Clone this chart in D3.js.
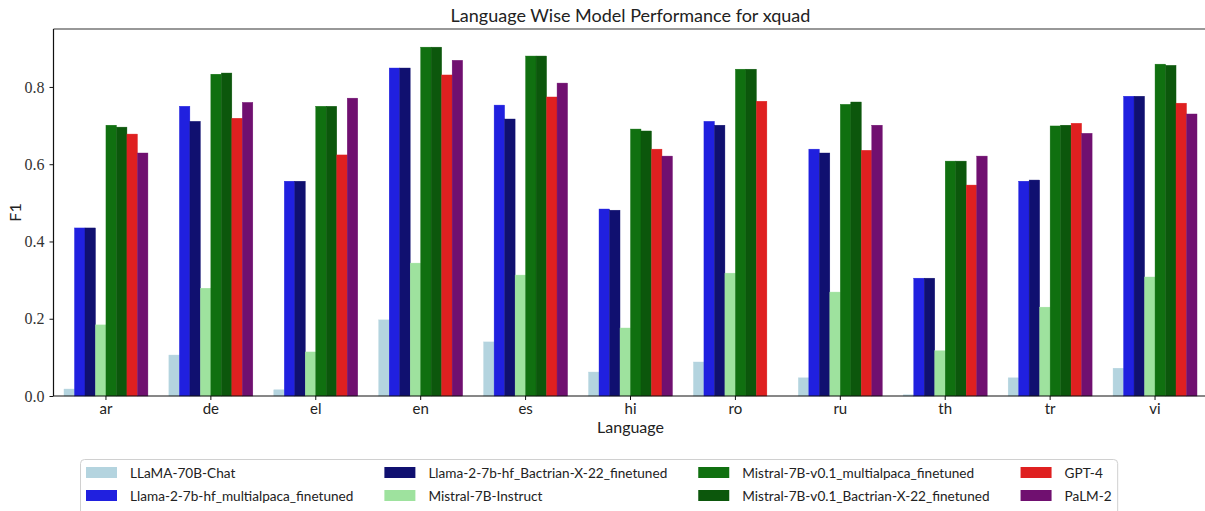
<!DOCTYPE html>
<html><head><meta charset="utf-8">
<script src="https://cdn.jsdelivr.net/npm/d3@7"></script>
<style>body{margin:0;background:#fff;} svg{display:block;}</style>
</head><body>
<svg id="chart" width="1205" height="511"></svg>
<script>
const languages = ["ar","de","el","en","es","hi","ro","ru","th","tr","vi"];
const models = ["LLaMA-70B-Chat","Llama-2-7b-hf_multialpaca_finetuned","Llama-2-7b-hf_Bactrian-X-22_finetuned","Mistral-7B-Instruct","Mistral-7B-v0.1_multialpaca_finetuned","Mistral-7B-v0.1_Bactrian-X-22_finetuned","GPT-4","PaLM-2"];
const llama70b      = [0.018,0.106,0.016,0.197,0.140,0.062,0.088,0.047,0.003,0.047,0.072];
const llamaMulti    = [0.435,0.750,0.556,0.849,0.753,0.484,0.711,0.639,0.305,0.556,0.776];
const llamaBactrian = [0.435,0.711,0.556,0.849,0.717,0.481,0.701,0.629,0.305,0.559,0.776];
const mistralInstr  = [0.184,0.279,0.114,0.344,0.313,0.176,0.318,0.269,0.117,0.230,0.308];
const mistralMulti  = [0.701,0.833,0.750,0.903,0.880,0.691,0.846,0.755,0.608,0.699,0.859];
const mistralBactr  = [0.696,0.836,0.750,0.903,0.880,0.686,0.846,0.761,0.608,0.701,0.856];
const gpt4          = [0.678,0.719,0.624,0.831,0.774,0.639,0.763,0.636,0.546,0.706,0.758];
const palm2         = [0.629,0.760,0.771,0.869,0.810,0.621,0.000,0.701,0.621,0.680,0.730];
const yTicks = [0.0,0.2,0.4,0.6,0.8];
const colors = ["#b4d4df","#2020df","#101070","#9ee29e","#107010","#0c570c","#df2020","#701070"];

const series = [llama70b,llamaMulti,llamaBactrian,mistralInstr,mistralMulti,mistralBactr,gpt4,palm2];

const svg = d3.select("#chart");
const m = {left:53.5, top:29, right:1207.5, bottom:396};
const x = d3.scaleBand().domain(languages).range([m.left,m.right]).paddingInner(0).paddingOuter(0);
const xs = d3.scaleBand().domain(models).range([0, x.bandwidth()*0.8]);
const y = d3.scaleLinear().domain([0,0.95]).range([m.bottom,m.top]);

const g = svg.append("g");
series.forEach((vals,si)=>{
  g.selectAll(null).data(vals).enter().append("rect")
    .attr("x",(d,i)=>x(languages[i]) + x.bandwidth()*0.1 + xs(models[si]))
    .attr("y",d=>y(d))
    .attr("width",xs.bandwidth())
    .attr("height",d=>y(0)-y(d))
    .attr("fill",colors[si])
    .attr("stroke",d=>d>0?colors[si]:"none").attr("stroke-width",0.4);
});

// spines
svg.append("line").attr("x1",m.left).attr("x2",m.right).attr("y1",m.top).attr("y2",m.top).attr("stroke","#333").attr("stroke-width",1.2);
svg.append("line").attr("x1",m.left).attr("x2",m.right).attr("y1",m.bottom).attr("y2",m.bottom).attr("stroke","#111").attr("stroke-width",1.2);
svg.append("line").attr("x1",m.left).attr("x2",m.left).attr("y1",m.top).attr("y2",m.bottom).attr("stroke","#111").attr("stroke-width",1.2);

// y axis
const ya = svg.append("g").attr("transform",`translate(${m.left},0)`)
  .call(d3.axisLeft(y).tickValues(yTicks).tickFormat(d3.format(".1f")).tickSize(4).tickPadding(5));
ya.select(".domain").remove();
ya.selectAll("text").attr("font-family","'Liberation Serif', 'DejaVu Serif', serif").attr("font-size",16).attr("fill","#333");
ya.selectAll("line").attr("stroke","#111");

// x axis
const xa = svg.append("g").attr("transform",`translate(0,${m.bottom})`)
  .call(d3.axisBottom(x).tickSize(4).tickPadding(3));
xa.select(".domain").remove();
xa.selectAll("text").attr("font-family","Lato, sans-serif").attr("font-size",15).attr("fill","#222");
xa.selectAll("line").attr("stroke","#111");

// titles
svg.append("text").attr("x",(m.left+m.right)/2).attr("y",22).attr("text-anchor","middle")
  .attr("font-family","Lato, sans-serif").attr("font-size",18).attr("fill","#222")
  .text("Language Wise Model Performance for xquad");
svg.append("text").attr("x",(m.left+m.right)/2).attr("y",433).attr("text-anchor","middle")
  .attr("font-family","Lato, sans-serif").attr("font-size",16).attr("fill","#222").text("Language");
svg.append("text").attr("transform",`translate(21,${(m.top+m.bottom)/2}) rotate(-90)`).attr("text-anchor","middle")
  .attr("font-family","Lato, sans-serif").attr("font-size",16).attr("fill","#222").text("F1");

// legend
const leg = svg.append("g");
const box = leg.append("rect").attr("x",80.5).attr("y",459.5).attr("rx",4).attr("ry",4)
  .attr("fill","#fff").attr("stroke","#d0d0d0").attr("stroke-width",1);
const ncol = 4, rowY=[473,496];
let cx = 86;
for(let c=0;c<ncol;c++){
  let maxW = 0;
  for(let r=0;r<2;r++){
    const idx = c*2+r;
    leg.append("rect").attr("x",cx).attr("y",rowY[r]-6).attr("width",31).attr("height",11).attr("fill",colors[idx]);
    const t = leg.append("text").attr("x",cx+44).attr("y",rowY[r]+5).attr("font-family","Lato, sans-serif")
      .attr("font-size",13.6).attr("fill","#222").text(models[idx]);
    maxW = Math.max(maxW, t.node().getComputedTextLength());
  }
  cx = cx + 44 + maxW + (c<ncol-1 ? 31 : 6);
}
box.attr("width",cx-80.5).attr("height",60);
</script>
</body></html>
